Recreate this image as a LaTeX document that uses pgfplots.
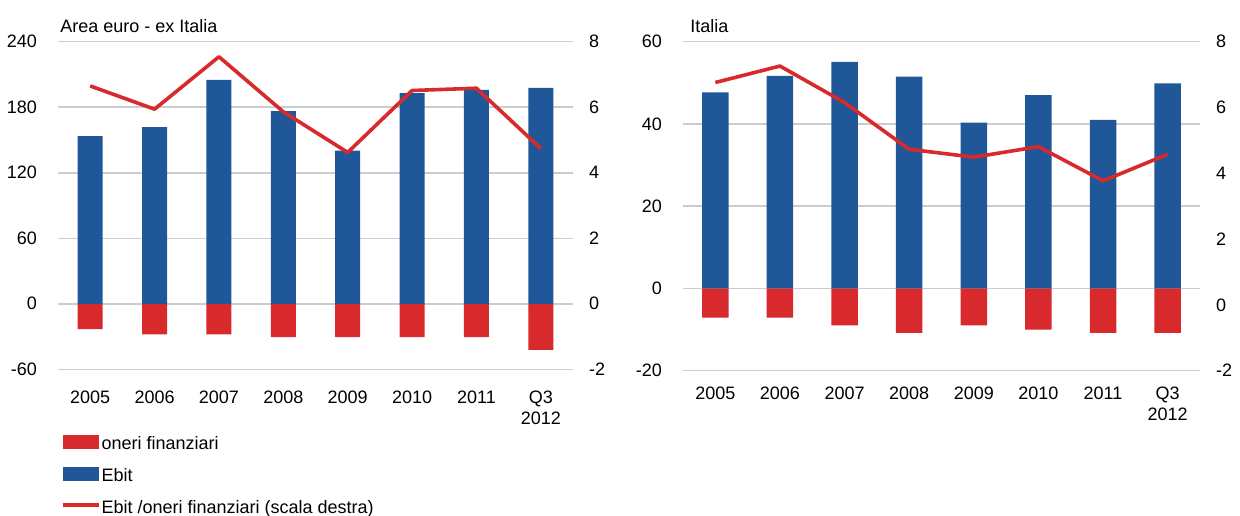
\documentclass[border=0pt]{standalone}
\usepackage{pgfplots}
\pgfplotsset{compat=1.18}
\usepackage{pgfplotstable}
\usepackage{fontspec}
\setmainfont{Liberation Sans}

\definecolor{ebitblue}{RGB}{31,87,152}
\definecolor{oneriRed}{RGB}{216,41,44}
\definecolor{gridgray}{RGB}{204,204,204}

% x = category index, ebit and oneri on the left scale, ratio on the right scale
\pgfplotstableread{
x ebit oneri ratio
0 153.5 -23.3 6.65
1 161.7 -27.9 5.94
2 205.0 -27.9 7.54
3 176.4 -30.6 5.86
4 140.3 -30.6 4.62
5 193.0 -30.6 6.51
6 196.0 -30.6 6.58
7 197.8 -42.2 4.74
}\euroex

\pgfplotstableread{
x ebit oneri ratio
0 47.7 -7.1 6.76
1 51.7 -7.1 7.26
2 55.1 -9.0 6.15
3 51.5 -10.8 4.73
4 40.3 -9.0 4.49
5 47.0 -10.0 4.81
6 41.0 -10.8 3.77
7 49.9 -10.8 4.58
}\italia

\pgfplotsset{
  base/.style={
    scale only axis,
    anchor=south west,
    xmin=-0.5, xmax=7.5,
    axis line style={draw=none},
    major tick length=0pt,
    tick label style={font=\fontsize{9}{10.5}\selectfont},
    /pgf/number format/assume math mode=true,
  },
  barpanel/.style={
    base,
    xtick={0,...,7},
    xticklabels={2005,2006,2007,2008,2009,2010,2011,{Q3\\2012}},
    xticklabel style={align=center, yshift=-7.3pt},
    yticklabel style={xshift=-7pt},
    ymajorgrids,
    grid style={gridgray, line width=0.75pt},
  },
  linepanel/.style={
    base,
    axis y line*=right,
    axis x line=none,
    ymin=-2, ymax=8,
    ytick={-2,0,...,8},
    yticklabel style={xshift=4.5pt},
  },
  ebitbar/.style={ybar, bar width=#1, bar shift=0pt, fill=ebitblue, draw=none},
  oneribar/.style={ybar, bar width=#1, bar shift=0pt, fill=oneriRed, draw=none},
  ratioline/.style={oneriRed, line width=1.8pt, line join=round, mark=none},
}

\begin{document}
\begin{tikzpicture}
\path[use as bounding box] (0,0) rectangle (620pt,-257.5pt);

% ---- Area euro - ex Italia ----
\begin{axis}[barpanel,
  at={(29pt,-184.65pt)}, width=257.5pt, height=163.8pt,
  ymin=-60, ymax=240, ytick={-60,0,...,240},
  legend style={draw=none, fill=none, inner sep=0pt,
    at={(axis description cs:0.005,-0.191)}, anchor=north west,
    font=\fontsize{9}{10.5}\selectfont, row sep=4pt,
    nodes={inner xsep=0.5pt}},
  legend cell align=left,
]
\addplot[oneribar=0.39, legend image code/.code={\fill[oneriRed] (0pt,-2.2pt) rectangle (18pt,4.8pt);}]
  table[x=x, y=oneri] {\euroex};
\addlegendentry{oneri finanziari}
\addplot[ebitbar=0.39, legend image code/.code={\fill[ebitblue] (0pt,-2.2pt) rectangle (18pt,4.8pt);}]
  table[x=x, y=ebit] {\euroex};
\addlegendentry{Ebit}
\addlegendimage{ratioline, legend image code/.code={\draw[oneriRed, line width=1.8pt] (0pt,1.6pt) -- (18pt,1.6pt);}}
\addlegendentry{Ebit /oneri finanziari (scala destra)}
\end{axis}
\begin{axis}[linepanel, at={(29pt,-184.65pt)}, width=257.5pt, height=163.8pt]
\addplot[ratioline] table[x=x, y=ratio] {\euroex};
\end{axis}
\node[anchor=base west, font=\fontsize{9}{10.5}\selectfont, inner sep=0pt] at (30pt,-16pt) {Area euro - ex Italia};

% ---- Italia ----
\begin{axis}[barpanel,
  at={(341.5pt,-185.35pt)}, width=258.5pt, height=164.5pt,
  ymin=-20, ymax=60, ytick={-20,0,...,60},
  xticklabel style={yshift=2.7pt},
]
\addplot[oneribar=0.41] table[x=x, y=oneri] {\italia};
\addplot[ebitbar=0.41] table[x=x, y=ebit] {\italia};
\end{axis}
\begin{axis}[linepanel, at={(341.5pt,-185.35pt)}, width=258.5pt, height=164.5pt]
\addplot[ratioline] table[x=x, y=ratio] {\italia};
\end{axis}
\node[anchor=base west, font=\fontsize{9}{10.5}\selectfont, inner sep=0pt] at (345pt,-16pt) {Italia};
\end{tikzpicture}
\end{document}
